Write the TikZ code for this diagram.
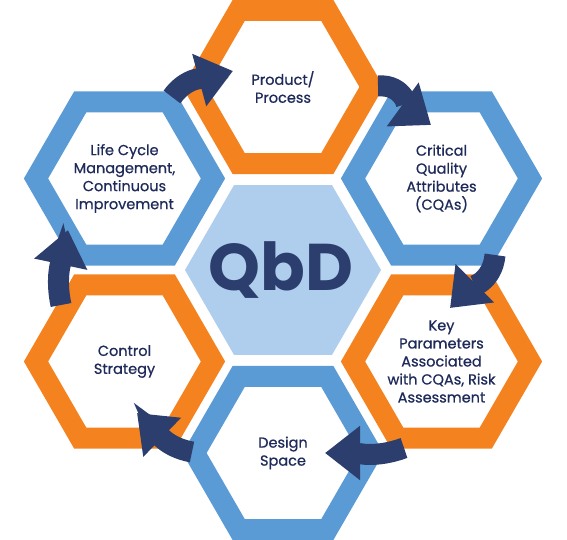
\documentclass[tikz,border=0pt]{standalone}
\usepackage{fontspec}
\setmainfont{Poppins}
\newfontfamily\lblfont{Poppins}[RawFeature={embolden=0.7}]
\usepackage{tikz}
\usetikzlibrary{shapes.geometric, arrows.meta, calc}

\definecolor{qbdorange}{HTML}{F4821F}
\definecolor{qbdblue}{HTML}{5B9BD5}
\definecolor{qbdlight}{HTML}{AFCDEC}
\definecolor{qbdnavy}{HTML}{2C3E6E}
\definecolor{qbdtext}{HTML}{1E2A5A}

\begin{document}
\begin{tikzpicture}[
    x=1pt, y=1pt,
    font=\lblfont\fontsize{14.5}{18}\selectfont,
    hexo/.style={regular polygon, regular polygon sides=6, minimum size=177pt, inner sep=0pt, draw=qbdorange, line width=21pt, fill=white, text=qbdtext, align=center},
    hexb/.style={hexo, draw=qbdblue},
    core/.style={regular polygon, regular polygon sides=6, minimum size=196pt, inner sep=0pt, fill=qbdlight},
    coretext/.style={text=qbdnavy, font=\bfseries\fontsize{66}{66}\selectfont},
    cyclearrow/.style={-{Triangle[length=35pt, width=52pt]}, line width=21pt, draw=qbdnavy}
]
\useasboundingbox (0, 0) rectangle (567, 540);

% Hexagons
\node[core] (qbd) at (283, 270) {};
\node[coretext] (qbdlabel) at (281, 270) {QbD};
\node[hexo] (prod) at (283, 453) {Product/\\Process};
\node[hexb] (cqa) at (441.5, 361.5) {Critical\\Quality\\Attributes\\(CQAs)};
\node[hexo] (keypar) at (441.5, 178.5) {Key\\Parameters\\Associated\\with CQAs, Risk\\Assessment};
\node[hexb] (design) at (283, 87) {Design\\Space};
\node[hexo] (control) at (124.5, 178.5) {Control\\Strategy};
\node[hexb] (life) at (124.5, 361.5) {Life Cycle\\Management,\\Continuous\\Improvement};

% Cycle arrows
\draw[cyclearrow] ([shift={(47.5,81.5)}]life.center) to[out=55, in=195] ([shift={(-50,16)}]prod.center);
\draw[cyclearrow] ([shift={(95,1)}]prod.center) to[out=5, in=144] ([shift={(-10.5,53.5)}]cqa.center);
\draw[cyclearrow] ([shift={(53.5,-76.5)}]cqa.center) to[out=-95, in=45] ([shift={(8.5,53.5)}]keypar.center);
\draw[cyclearrow] ([shift={(-37.5,-86.5)}]keypar.center) to[out=200, in=0] ([shift={(42,0)}]design.center);
\draw[cyclearrow] ([shift={(-91,1)}]design.center) to[out=170, in=-44] ([shift={(12.5,-51.5)}]control.center);
\draw[cyclearrow] ([shift={(-63.5,56.5)}]control.center) to[out=102, in=258] ([shift={(-56.5,-51.5)}]life.center);

\end{tikzpicture}
\end{document}
